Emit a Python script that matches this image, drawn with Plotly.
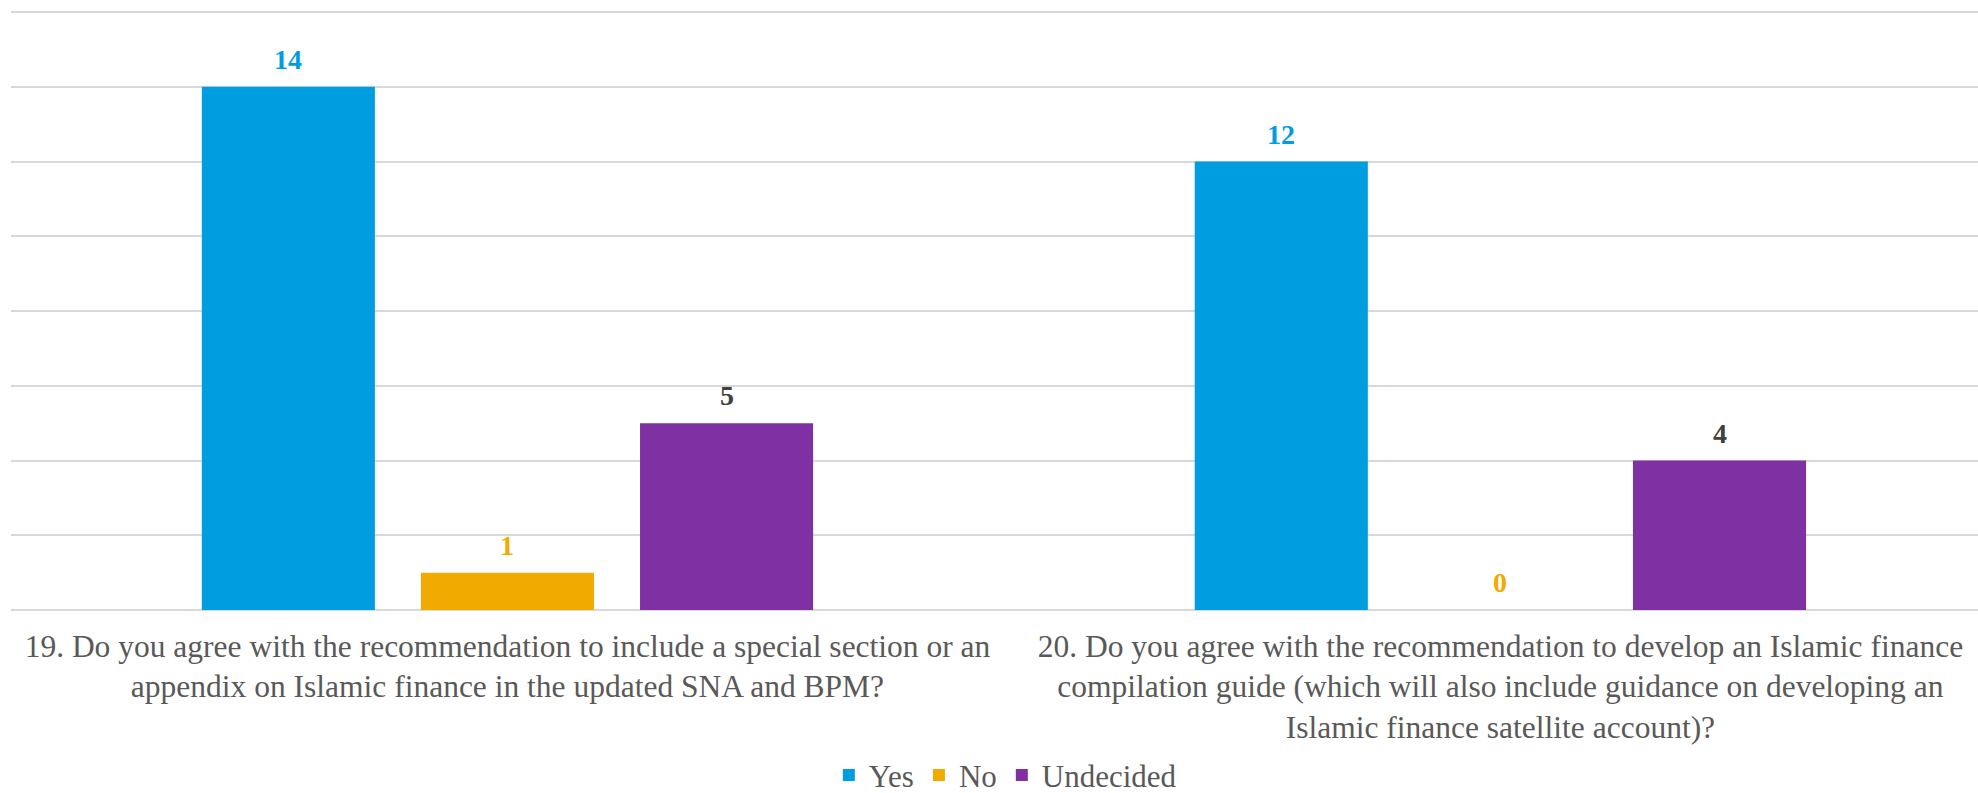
import plotly.graph_objects as go

categories = [
    "19. Do you agree with the recommendation to include a special section or an<br>appendix on Islamic finance in the updated SNA and BPM?",
    "20. Do you agree with the recommendation to develop an Islamic finance<br>compilation guide (which will also include guidance on developing an<br>Islamic finance satellite account)?",
]
series_names = ["Yes", "No", "Undecided"]
yes_values = [14, 12]
no_values = [1, 0]
undecided_values = [5, 4]

colors = ["#009EE0", "#F1AA00", "#7F31A3"]
label_colors = ["#009EE0", "#F1AA00", "#404040"]
FONT = "Liberation Serif, Times New Roman, serif"

fig = go.Figure()
all_values = [yes_values, no_values, undecided_values]
for name, vals, c in zip(series_names, all_values, colors):
    fig.add_trace(go.Bar(name=name, x=categories, y=vals, marker_color=c,
                         marker_line_width=0))

bargap = 0.338
bargroupgap = 0.21
slot = (1 - bargap) / 3
offsets = [-slot, 0, slot]
for k, (vals, lc) in enumerate(zip(all_values, label_colors)):
    for i, v in enumerate(vals):
        fig.add_annotation(x=i + offsets[k], y=v, xref="x", yref="y",
                           text="<b>%d</b>" % v, showarrow=False,
                           yanchor="bottom", yshift=10,
                           font=dict(family=FONT, size=28, color=lc))

fig.update_layout(
    width=1978, height=793,
    margin=dict(l=11, r=0, t=11, b=183, autoexpand=False),
    paper_bgcolor="white", plot_bgcolor="white",
    barmode="group", bargap=bargap, bargroupgap=bargroupgap,
    font=dict(family=FONT, size=31, color="#595959"),
    showlegend=True,
    legend=dict(orientation="h", x=0.5055, xanchor="center",
                y=-0.276, yanchor="middle",
                font=dict(family=FONT, size=31, color="#595959"),
                itemwidth=30, traceorder="normal", tracegroupgap=0),
)
fig.update_xaxes(range=[-0.5, 1.481], showgrid=False, showline=False, ticks="",
                 automargin=False, ticklabelstandoff=14,
                 tickfont=dict(family=FONT, size=31.5, color="#595959"))
fig.update_yaxes(range=[0, 16.03], dtick=2, showticklabels=False, gridcolor="#D9D9D9",
                 automargin=False,
                 gridwidth=2, zeroline=True, zerolinecolor="#D9D9D9", zerolinewidth=2)

fig.write_html("out.html", config={"displayModeBar": False},
               post_script="document.body.style.margin='0';")
